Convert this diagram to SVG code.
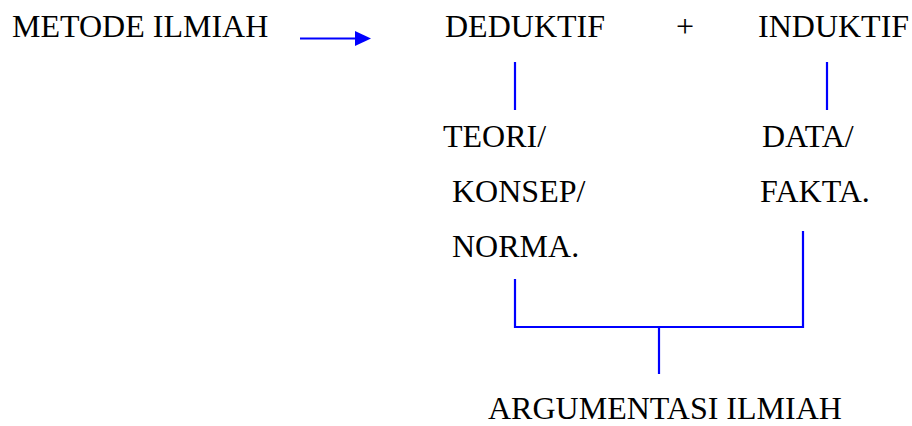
<svg xmlns="http://www.w3.org/2000/svg" width="912" height="426" viewBox="0 0 912 426">
<style>
.t{font-family:'Liberation Serif',serif;font-size:32px;fill:#000}
.c{stroke:#0000ff;stroke-width:2.2;fill:none}
</style>
<defs>
<marker id="ah" markerWidth="16" markerHeight="16" refX="0" refY="7.5" orient="auto" markerUnits="userSpaceOnUse">
<path d="M0,0 L16,7.5 L0,15 Z" fill="#0000ff"/>
</marker>
</defs>
<rect width="912" height="426" fill="#fff"/>
<g id="connectors">
<line class="c" x1="300" y1="38.5" x2="355" y2="38.5" stroke-width="2.6" marker-end="url(#ah)"/>
<line class="c" x1="515" y1="62" x2="515" y2="110"/>
<line class="c" x1="827" y1="62" x2="827" y2="110"/>
<polyline class="c" points="515,279 515,327 803,327 803,231"/>
<line class="c" x1="659" y1="327" x2="659" y2="374"/>
</g>
<g font-family="Liberation Serif, serif" font-size="32">
<g id="metode"><text class="t" x="12" y="37">METODE ILMIAH</text></g>
<g id="deduktif"><text class="t" x="445" y="37">DEDUKTIF</text></g>
<g id="plus"><text class="t" x="676" y="37">+</text></g>
<g id="induktif"><text class="t" x="758" y="37">INDUKTIF</text></g>
<g id="teori">
<text class="t" x="443" y="147">TEORI/</text>
<text class="t" x="452" y="202">KONSEP/</text>
<text class="t" x="452" y="257">NORMA.</text>
</g>
<g id="data">
<text class="t" x="762" y="147">DATA/</text>
<text class="t" x="760" y="202">FAKTA.</text>
</g>
<g id="argumentasi"><text class="t" x="488" y="419">ARGUMENTASI ILMIAH</text></g>
</g>
</svg>
